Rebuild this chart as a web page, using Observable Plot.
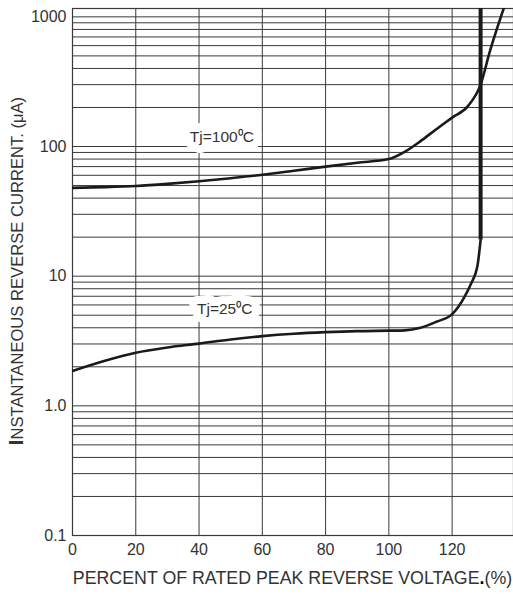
<!DOCTYPE html>
<html>
<head>
<meta charset="utf-8">
<script src="https://cdn.jsdelivr.net/npm/d3@7"></script>
<script src="https://cdn.jsdelivr.net/npm/@observablehq/plot@0.6"></script>
<style>
  html, body { margin: 0; padding: 0; background: #fff; }
  #chart svg { display: block; }
</style>
</head>
<body>
<div id="chart"></div>
<script>
// ---- Data ----
// Tj = 25 °C : percent of rated peak reverse voltage vs reverse current (µA)
const pct25 = [0, 10, 20, 30, 40, 50, 60, 70, 80, 90, 100, 105, 110, 115, 120, 124, 126, 128, 129];
const cur25 = [1.86, 2.22, 2.57, 2.82, 3.02, 3.25, 3.45, 3.6, 3.7, 3.77, 3.8, 3.82, 4.0, 4.45, 5.1, 7.0, 8.8, 12.0, 19];

// Tj = 100 °C
const pct100 = [0, 10, 20, 30, 40, 50, 60, 70, 80, 90, 100, 105, 110, 115, 120, 125, 129, 132, 134.2, 137];
const cur100 = [48, 48.6, 49.6, 51.5, 54, 57, 60.5, 65, 70, 75, 80, 91, 110, 136, 167, 205, 300, 550, 814, 1300];

// Breakdown (vertical thick line of the 25 °C curve)
const breakdownPct = [129];
const breakdownFrom = [19];

// Curve labels
const labelText = ["Tj=100\u2070C", "Tj=25\u2070C"];
const labelPct = [47.2, 48.1];
const labelCur = [119, 5.55];

// Axes
const xTicks = [0, 20, 40, 60, 80, 100, 120];
const xGridLines = [20, 40, 60, 80, 100, 120];
const yTicks = [0.1, 1, 10, 100, 1000];
const yTickLabels = ["0.1", "1.0", "10", "100", "1000"];
const yDomain = [0.1, 1160];
const xDomain = [0, 139.4];
const yMinorGrid = [];
for (const decade of [0.1, 1, 10, 100]) for (let k = 1; k <= 9; k++) yMinorGrid.push(+(decade * k).toPrecision(3));
yMinorGrid.push(1000);

const xTitle = "PERCENT OF RATED PEAK REVERSE VOLTAGE";
const yTitleFirst = "I";
const yTitleRest = "NSTANTANEOUS REVERSE CURRENT. (\u03BCA)";

// ---- Tables ----
const series25 = pct25.map((p, i) => ({pct: p, cur: cur25[i]}));
const series100 = pct100.map((p, i) => ({pct: p, cur: cur100[i]}));
const breakdown = breakdownPct.map((p, i) => ({pct: p, from: breakdownFrom[i], to: yDomain[1]}));
const labels = labelText.map((t, i) => ({text: t, pct: labelPct[i], cur: labelCur[i]}));
const yLabelMap = new Map(yTicks.map((v, i) => [v, yTickLabels[i]]));

const gridColor = "#3a3a3a";
const textColor = "#333";

const svg = Plot.plot({
  width: 513,
  height: 594,
  marginTop: 8,
  marginBottom: 59,
  marginLeft: 72,
  marginRight: 0,
  style: {fontFamily: "'Liberation Sans', Arial, sans-serif", fontSize: "16px", color: textColor, background: "#fff"},
  x: {domain: xDomain},
  y: {type: "log", domain: yDomain},
  marks: [
    Plot.gridY(yMinorGrid, {stroke: gridColor, strokeOpacity: 1, strokeWidth: 1}),
    Plot.gridX(xGridLines, {stroke: gridColor, strokeOpacity: 1, strokeWidth: 1}),
    Plot.frame({stroke: gridColor, strokeWidth: 1.2}),
    Plot.axisX(xTicks, {tickSize: 0, tickPadding: 8, label: null, fontSize: 16, fill: textColor}),
    Plot.axisY(yTicks, {tickSize: 0, tickPadding: 6, label: null, fontSize: 16, fill: textColor, tickFormat: d => yLabelMap.get(d)}),
    Plot.line(series100, {x: "pct", y: "cur", curve: "monotone-x", stroke: "#1a1a1a", strokeWidth: 2.6, clip: true}),
    Plot.line(series25, {x: "pct", y: "cur", curve: "monotone-x", stroke: "#1a1a1a", strokeWidth: 2.6, clip: true}),
    Plot.ruleX(breakdown, {x: "pct", y1: "from", y2: "to", stroke: "#1a1a1a", strokeWidth: 4}),
    Plot.text(labels, {x: "pct", y: "cur", text: "text", fill: textColor, stroke: "#fff", strokeWidth: 16, fontSize: 15.5})
  ]
});

const s = d3.select(svg);
// x-axis title
const xt = s.append("text")
  .attr("x", 292.5).attr("y", 578)
  .attr("text-anchor", "middle")
  .attr("dy", "0.35em")
  .attr("fill", textColor)
  .attr("font-size", 17.8);
xt.append("tspan").text(xTitle);
xt.append("tspan").attr("font-weight", "bold").attr("fill", "#000").text(".");
xt.append("tspan").text("(%)");

// y-axis title
const yt = s.append("text")
  .attr("transform", "translate(17,271) rotate(-90)")
  .attr("text-anchor", "middle")
  .attr("dy", "0.35em")
  .attr("fill", textColor)
  .attr("font-size", 16.6);
yt.append("tspan").attr("font-size", 20).attr("font-weight", "bold").text(yTitleFirst);
yt.append("tspan").text(yTitleRest);

document.getElementById("chart").appendChild(svg);
</script>
</body>
</html>
